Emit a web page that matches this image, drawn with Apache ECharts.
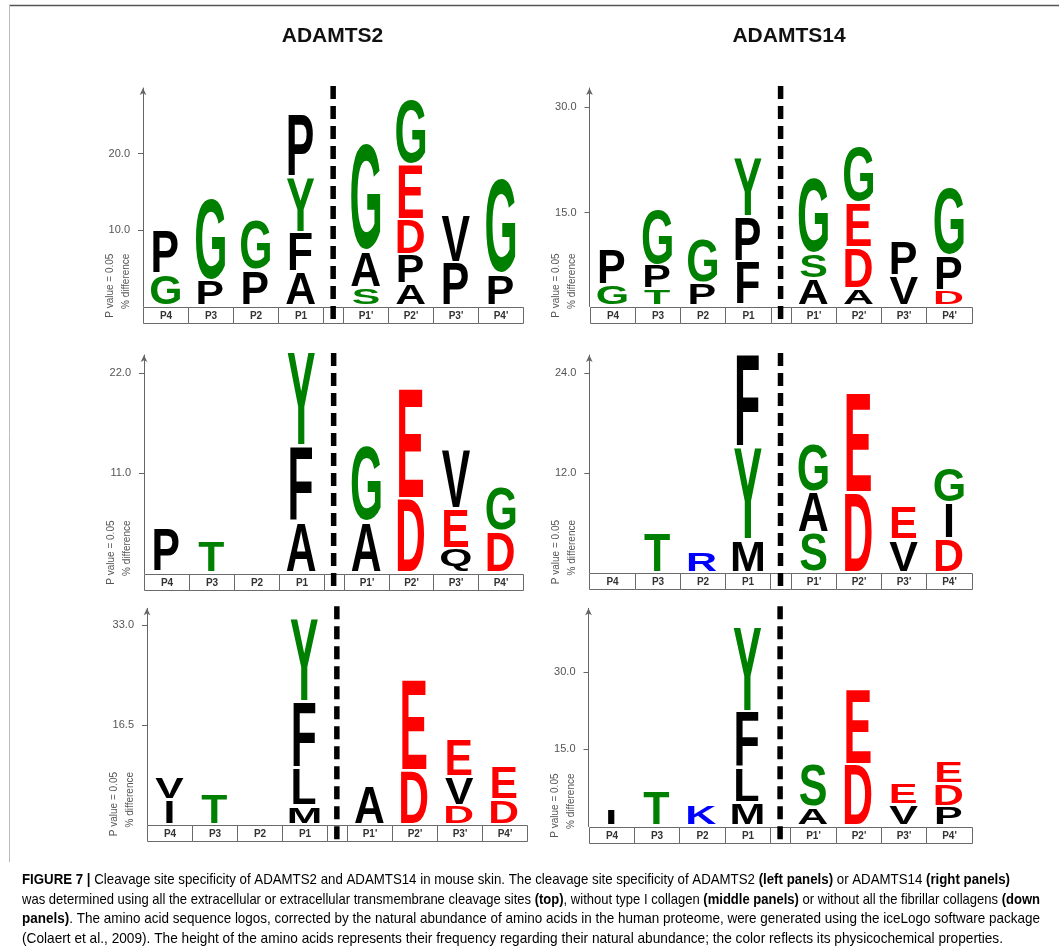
<!DOCTYPE html>
<html><head><meta charset="utf-8">
<script src="https://cdn.jsdelivr.net/npm/echarts@6/dist/echarts.min.js"></script>
<style>html,body{margin:0;padding:0;background:#fff}#c{width:1059px;height:952px}</style>
</head><body><div id="c"></div>
<script>
// ---------------- data ----------------
const positions = ['P4', 'P3', 'P2', 'P1', "P1'", "P2'", "P3'", "P4'"];
const columnTitles = ['ADAMTS2', 'ADAMTS14'];
const yAxisName = ['P value = 0.05', '% difference'];

// top-left: ADAMTS2, all sites
const tlLetters = [['G','P'],['P','G'],['P','G'],['A','F','Y','P'],['S','A','G'],['A','P','D','E','G'],['P','V'],['P','G']];
const tlHeights = [[4.1,5.7],[3.3,10.9],[4.6,6.75],[4.4,5.2,7.2,8.3],[2.4,4.8,14.2],[2.8,3.9,4.6,7.2,8.6],[5.7,6.1],[4.1,12.5]];
const tlTicks = [10, 20];
const tlRange = [0, 28.6];

// top-right: ADAMTS14, all sites
const trLetters = [['G','P'],['T','P','G'],['P','G'],['F','P','Y'],['A','S','G'],['A','D','E','G'],['V','P'],['D','P','G']];
const trHeights = [[2.9,5.1],[2.35,3.4,8.1],[3.2,6.3],[6.2,6.5,8.4],[3.8,3.55,10.9],[2.45,5.8,6.4,8.1],[4.2,5.0],[2.1,5.0,9.7]];
const trTicks = [15, 30];
const trRange = [1.67, 32.7];

// middle-left: ADAMTS2, without type I collagen
const mlLetters = [['P'],['T'],[],['A','F','Y'],['A','G'],['D','E'],['Q','E','V'],['D','G']];
const mlHeights = [[4.8],[3.6],[],[5.6,8.3,10.3],[5.6,8.3],[8.1,12.1],[2.6,4.4,6.4],[4.5,4.95]];
const mlTicks = [11, 22];
const mlRange = [0, 24.0];

// middle-right: ADAMTS14, without type I collagen
const mrLetters = [[],['T'],['R'],['M','Y','F'],['S','A','G'],['D','E'],['V','E'],['D','I','G']];
const mrHeights = [[],[4.75],[2.5],[3.9,11.0,11.2],[4.75,4.9,5.8],[9.5,12.0],[3.9,4.0],[4.0,4.3,4.2]];
const mrTicks = [12, 24];
const mrRange = [0, 26.2];

// bottom-left: ADAMTS2, without fibrillar collagens
const blLetters = [['I','V'],['T'],[],['M','L','F','Y'],['A'],['D','E'],['D','V','E'],['D','E']];
const blHeights = [[4.1,3.85],[5.2],[],[3.0,6.2,11.0,13.7],[6.4],[8.9,15.1],[3.1,4.7,6.1],[4.0,5.5]];
const blTicks = [16.5, 33];
const blRange = [0, 35.8];

// bottom-right: ADAMTS14, without fibrillar collagens
const brLetters = [['I'],['T'],['K'],['M','L','F','Y'],['A','S'],['D','E'],['V','E'],['P','D','E']];
const brHeights = [[3.2],[6.7],[4.0],[4.5,6.6,11.0,16.5],[3.5,8.3],[11.8,14.7],[4.0,4.2],[3.7,4.5,4.5]];
const brTicks = [15, 30];
const brRange = [0, 42.4];

// ---------------- layout / style ----------------
const GAP = 20 / 45;               // width of the cleavage-gap cell, in columns
const XMAX = 8 + GAP;
const LETTER_GAP_PX = 2.5;
const TABLE_H = 16;
const LOGO_FONT = '"Liberation Sans"';
const LOGO_WEIGHT = 'bold';
const GREEN = '#008000', RED = '#ff0000', BLUE = '#0000ff', BLACK = '#000000';
function colorOf(ch) {
  if ('DE'.includes(ch)) return RED;
  if ('KRH'.includes(ch)) return BLUE;
  if ('GSTYC'.includes(ch)) return GREEN;
  return BLACK;
}
const panels = [
  { letters: tlLetters, heights: tlHeights, ticks: tlTicks, range: tlRange, left: 143,   width: 380.3, top: 88,    base: 306.6 },
  { letters: trLetters, heights: trHeights, ticks: trTicks, range: trRange, left: 589.5, width: 382.2, top: 88,    base: 306.5 },
  { letters: mlLetters, heights: mlHeights, ticks: mlTicks, range: mlRange, left: 144,   width: 379.3, top: 355,   base: 573.5 },
  { letters: mrLetters, heights: mrHeights, ticks: mrTicks, range: mrRange, left: 589.3, width: 382.4, top: 355,   base: 573 },
  { letters: blLetters, heights: blHeights, ticks: blTicks, range: blRange, left: 147,   width: 379.7, top: 608.3, base: 825 },
  { letters: brLetters, heights: brHeights, ticks: brTicks, range: brRange, left: 588.5, width: 383.2, top: 608.3, base: 826.5 }
];

// ---------------- glyph metrics ----------------
const mctx = document.createElement('canvas').getContext('2d');
const metricCache = {};
const LOGO_FONT_STR = 'normal ' + LOGO_WEIGHT + ' 100px ' + LOGO_FONT;
function glyphMetrics(ch) {
  if (metricCache[ch]) return metricCache[ch];
  mctx.font = LOGO_FONT_STR;
  mctx.textBaseline = 'middle';
  mctx.textAlign = 'center';
  const m = mctx.measureText(ch);
  return (metricCache[ch] = { L: m.actualBoundingBoxLeft, R: m.actualBoundingBoxRight, A: m.actualBoundingBoxAscent, D: m.actualBoundingBoxDescent });
}
function xCenter(i) { return i < 4 ? i + 0.5 : i + 0.5 + GAP; }

// ---------------- option ----------------
const grid = [], xAxis = [], yAxis = [], series = [], graphic = [];
panels.forEach((p, k) => {
  grid.push({ left: p.left, top: p.top, width: p.width, height: p.base - p.top });
  xAxis.push({ gridIndex: k, type: 'value', min: 0, max: XMAX, show: false });
  yAxis.push({
    gridIndex: k, type: 'value', min: p.range[0], max: p.range[1],
    axisLine: { show: true, symbol: ['none', 'arrow'], symbolSize: [5, 7], lineStyle: { color: '#666', width: 1 } },
    axisTick: { show: true, customValues: p.ticks, length: 5, lineStyle: { color: '#666' } },
    axisLabel: { customValues: p.ticks, formatter: v => v.toFixed(1), color: '#555', fontSize: 11, margin: 13, fontFamily: 'Liberation Sans' },
    splitLine: { show: false }
  });

  // table cells (8 positions + gap cell)
  const cells = [], cellLabels = [];
  for (let i = 0; i < 4; i++) { cells.push([i, p.range[0], i + 1]); cellLabels.push(positions[i]); }
  cells.push([4, p.range[0], 4 + GAP]); cellLabels.push('');
  for (let i = 4; i < 8; i++) { cells.push([i + GAP, p.range[0], i + 1 + GAP]); cellLabels.push(positions[i]); }
  series.push({
    type: 'custom', xAxisIndex: k, yAxisIndex: k, silent: true, z: 2, data: cells,
    renderItem: (params, api) => {
      const a = api.coord([api.value(0), api.value(1)]);
      const b = api.coord([api.value(2), api.value(1)]);
      const x0 = Math.round(a[0]) + 0.5, x1 = Math.round(b[0]) + 0.5, y0 = Math.round(a[1]) + 0.5;
      return { type: 'group', children: [
        { type: 'rect', shape: { x: x0, y: y0, width: x1 - x0, height: TABLE_H }, style: { fill: 'none', stroke: '#6a6a6a', lineWidth: 1 } },
        { type: 'text', x: (x0 + x1) / 2, y: y0 + TABLE_H / 2 + 0.5, style: { text: cellLabels[params.dataIndex], fill: '#333', font: 'bold 10px "Liberation Sans"', align: 'center', verticalAlign: 'middle' } }
      ] };
    }
  });

  // cleavage dashed line
  series.push({
    type: 'custom', xAxisIndex: k, yAxisIndex: k, silent: true, z: 4,
    data: [[4 + GAP / 2, p.range[0], p.range[1]]],
    renderItem: (params, api) => {
      const b = api.coord([api.value(0), api.value(1)]);
      const t = api.coord([api.value(0), api.value(2)]);
      return { type: 'line', shape: { x1: b[0], y1: t[1] - 2, x2: b[0], y2: b[1] + TABLE_H }, style: { stroke: '#000', lineWidth: 5.5, lineDash: [13, 7] } };
    }
  });

  // stacked letters
  const flat = [], flatLetters = [];
  p.letters.forEach((col, i) => {
    let cum = p.range[0];
    col.forEach((ch, j) => {
      const h = p.heights[i][j];
      flat.push([xCenter(i), cum, cum + h]);
      flatLetters.push(ch);
      cum += h;
    });
  });
  series.push({
    type: 'custom', xAxisIndex: k, yAxisIndex: k, silent: true, z: 3, data: flat,
    renderItem: (params, api) => {
      const ch = flatLetters[params.dataIndex];
      const pb = api.coord([api.value(0), api.value(1)]);
      const pt = api.coord([api.value(0), api.value(2)]);
      const colW = api.size([1, 0])[0];
      const m = glyphMetrics(ch);
      const sx = colW * 0.95 / 100;
      const top = pt[1], bottom = pb[1] - LETTER_GAP_PX;
      const sy = Math.max(0.01, (bottom - top) / (m.A + m.D));
      return {
        type: 'text', x: pt[0] - sx * (m.R - m.L) / 2, y: top + sy * m.A, scaleX: sx, scaleY: sy,
        style: { text: ch, fill: colorOf(ch), font: LOGO_FONT_STR, align: 'center', verticalAlign: 'middle' }
      };
    }
  });

  // y axis name (two rotated lines)
  [[-33, yAxisName[0]], [-17, yAxisName[1]]].forEach(([dx, txt]) => {
    graphic.push({ type: 'text', x: p.left + dx, y: p.base - 53, rotation: Math.PI / 2, silent: true,
      style: { text: txt, fill: '#555', font: '10px "Liberation Sans"', align: 'right', verticalAlign: 'middle' } });
  });
});

// frame lines
graphic.push({ type: 'line', shape: { x1: 9, y1: 5.5, x2: 1059, y2: 5.5 }, style: { stroke: '#555', lineWidth: 1.5 }, silent: true });
graphic.push({ type: 'line', shape: { x1: 9.5, y1: 5, x2: 9.5, y2: 862 }, style: { stroke: '#bbb', lineWidth: 1 }, silent: true });

// caption
const CAP_FAMILY = '"Liberation Sans Narrow", "Liberation Sans", sans-serif';
const CAP_SIZE = 14.5;
const capStyles = {
  n: { fontWeight: 'normal', color: '#222' },
  b: { fontWeight: 'bold', color: '#111' },
  g: { fontWeight: 'normal', color: '#888' }
};
const captionLines = [
  { segs: [['FIGURE 7 | ', 'b'], ['Cleavage site specificity of ADAMTS2 and ADAMTS14 in mouse skin. The cleavage site specificity of ADAMTS2 ', 'n'], ['(left panels)', 'b'], [' or ADAMTS14 ', 'n'], ['(right panels)', 'b']], y: 880, w: 988 },
  { segs: [['was determined using all the extracellular or extracellular transmembrane cleavage sites ', 'n'], ['(top)', 'b'], [', without type I collagen ', 'n'], ['(middle panels)', 'b'], [' or without all the fibrillar collagens ', 'n'], ['(down', 'b']], y: 899.5, w: 1018 },
  { segs: [['panels)', 'b'], ['. The amino acid sequence logos, corrected by the natural abundance of amino acids in the human proteome, were generated using the iceLogo software package', 'n']], y: 919, w: 1018 },
  { segs: [['(Colaert et al., 2009)', 'g'], ['. The height of the amino acids represents their frequency regarding their natural abundance; the color reflects its physicochemical properties.', 'n']], y: 938.5, w: 981 }
];
const rich = {};
Object.keys(capStyles).forEach(key => {
  rich[key] = { fontFamily: CAP_FAMILY, fontSize: CAP_SIZE, fontWeight: capStyles[key].fontWeight, color: capStyles[key].color };
});
captionLines.forEach(line => {
  let w = 0;
  line.segs.forEach(([t, s]) => {
    mctx.font = capStyles[s].fontWeight + ' ' + CAP_SIZE + 'px ' + CAP_FAMILY;
    w += mctx.measureText(t).width;
  });
  const text = line.segs.map(([t, s]) => '{' + s + '|' + t + '}').join('');
  graphic.push({ type: 'text', x: 22, y: line.y, scaleX: line.w / w, silent: true,
    style: { text, rich, align: 'left', verticalAlign: 'middle', font: CAP_SIZE + 'px ' + CAP_FAMILY } });
});

const option = {
  animation: false,
  backgroundColor: '#fff',
  title: [
    { text: columnTitles[0], left: 327.5, top: 21, textAlign: 'center', textStyle: { fontSize: 21, fontWeight: 'bold', fontFamily: 'Liberation Sans', color: '#111' } },
    { text: columnTitles[1], left: 784, top: 21, textAlign: 'center', textStyle: { fontSize: 21, fontWeight: 'bold', fontFamily: 'Liberation Sans', color: '#111' } }
  ],
  grid, xAxis, yAxis, series, graphic
};
const chart = echarts.init(document.getElementById('c'), null, { renderer: 'canvas' });
chart.setOption(option);
</script></body></html>
